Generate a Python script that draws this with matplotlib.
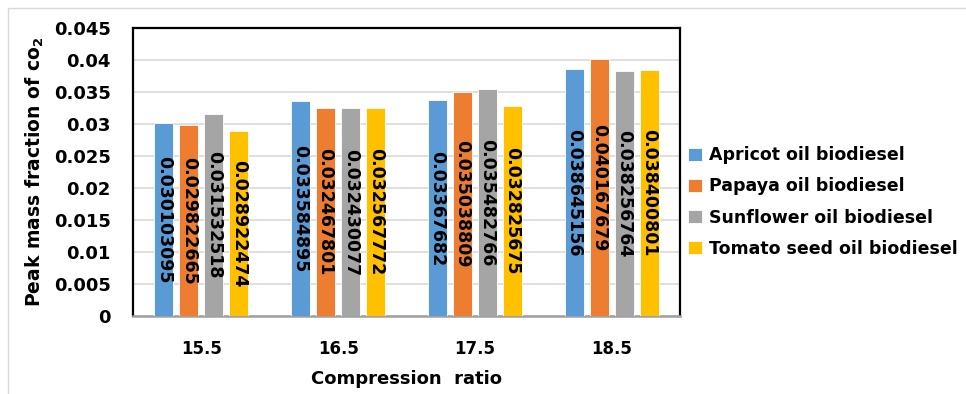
import numpy as np
import matplotlib.pyplot as plt
from matplotlib.patches import Rectangle

plt.rcParams['font.family'] = ['DejaVu Sans']
plt.rcParams['font.weight'] = 'bold'
plt.rcParams['mathtext.fontset'] = 'dejavusans'

ratios = ['15.5', '16.5', '17.5', '18.5']
series = ['Apricot oil biodiesel', 'Papaya oil biodiesel',
          'Sunflower oil biodiesel', 'Tomato seed oil biodiesel']
apricot = [0.030103095, 0.033584895, 0.03367682, 0.038645156]
papaya = [0.029822665, 0.032467801, 0.035038809, 0.040167679]
sunflower = [0.031532518, 0.032430077, 0.035482766, 0.038256764]
tomato = [0.028922474, 0.032567772, 0.032825675, 0.038400801]
colors = ['#5B9BD5', '#ED7D31', '#A5A5A5', '#FFC000']

W, H = 966, 394
fig = plt.figure(figsize=(W / 100, H / 100), dpi=100)
ax = fig.add_axes([133 / W, 1 - 316 / H, (680 - 133) / W, (316 - 28) / H])

# faint outline of the chart area
fig.patches.append(Rectangle((8 / W, -0.1), 1.2, 1 - 8 / H + 0.1,
                             transform=fig.transFigure, fill=False,
                             edgecolor='#D9D9D9', linewidth=1))

x = np.arange(len(ratios))
width = 0.14
step = 0.183
for i, (vals, name) in enumerate(zip([apricot, papaya, sunflower, tomato], series)):
    pos = x + (i - 1.5) * step
    bars = ax.bar(pos, vals, width, color=colors[i], label=name,
                  edgecolor='white', linewidth=0.6, zorder=3)
    for b, v in zip(bars, vals):
        ax.text(b.get_x() + b.get_width() / 2, v / 2, str(v), rotation=-90,
                ha='center', va='center', fontsize=12.5, fontweight='bold',
                color='black', zorder=4)

ax.set_xlim(-0.5, 3.5)
ax.set_ylim(0, 0.045)
ax.set_yticks(np.arange(0, 0.0451, 0.005))
ax.set_yticklabels(['0', '0.005', '0.01', '0.015', '0.02', '0.025',
                    '0.03', '0.035', '0.04', '0.045'])
ax.set_xticks(x)
ax.set_xticklabels(ratios)
ax.tick_params(axis='both', length=0)
ax.tick_params(axis='y', pad=16, labelsize=13)
ax.tick_params(axis='x', pad=17, labelsize=12)
ax.yaxis.grid(True, color='#D9D9D9', linewidth=1.2, zorder=0)
ax.set_axisbelow(True)

for side in ['left', 'top', 'right']:
    ax.spines[side].set_color('black')
    ax.spines[side].set_linewidth(1.6)
ax.spines['bottom'].set_color('#A0A0A0')
ax.spines['bottom'].set_linewidth(1.8)

ax.set_xlabel('Compression  ratio', fontsize=13, fontweight='bold', labelpad=9)
ax.set_ylabel(r'Peak mass fraction of co$_\mathbf{2}$', fontsize=13.5,
              fontweight='bold', labelpad=6)

fig.legend(loc='center left', bbox_to_anchor=(681 / W, 1 - 202 / H),
           frameon=False, fontsize=12.5, handlelength=0.8, handleheight=0.8,
           handletextpad=0.4, labelspacing=0.75, borderaxespad=0)

fig.savefig('out.png', dpi=100)
